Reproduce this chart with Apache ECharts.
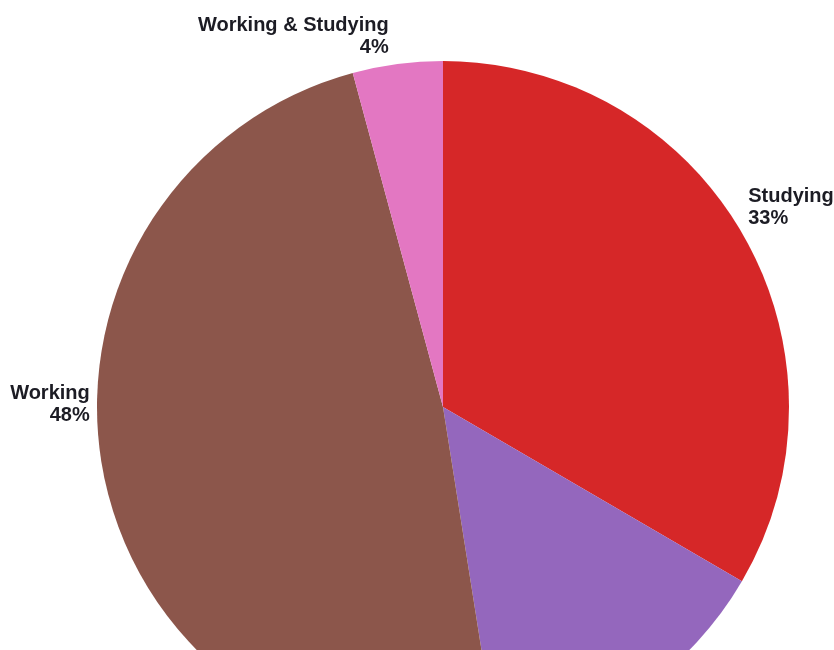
<!DOCTYPE html>
<html>
<head>
<meta charset="utf-8">
<script src="https://cdn.jsdelivr.net/npm/echarts@6/dist/echarts.min.js"></script>
<style>
  html, body { margin: 0; padding: 0; background: #fff; }
  #chart { width: 834px; height: 650px; }
</style>
</head>
<body>
<div id="chart"></div>
<script>
// slice data, clockwise from 12 o'clock
const categories = ['Studying', 'Neither', 'Working', 'Working & Studying']
const shares = [33.4, 14.1, 48.3, 4.2]
const colors = ['#d62728', '#9467bd', '#8c564b', '#e377c2']
// the "Neither" label falls below the visible area in the original
const hiddenLabels = ['Neither']

// small nudges of the outside labels from where echarts puts them
const labelNudge = {
  'Studying': [0, -24],
  'Working': [-9, -76],
  'Working & Studying': [-8, -22]
}

const chart = echarts.init(document.getElementById('chart'))

const pieData = categories.map((name, i) => ({
  name: name,
  value: shares[i],
  itemStyle: { color: colors[i] },
  label: { show: hiddenLabels.indexOf(name) < 0 }
}))

chart.setOption({
  animation: false,
  backgroundColor: '#ffffff',
  series: [
    {
      type: 'pie',
      center: [443, 407],
      radius: 346,
      startAngle: 90,
      clockwise: true,
      avoidLabelOverlap: false,
      itemStyle: { borderWidth: 0 },
      label: {
        position: 'outside',
        distanceToLabelLine: 0,
        fontFamily: '"Liberation Sans", Arial, sans-serif',
        fontWeight: 'bold',
        fontSize: 20,
        lineHeight: 22,
        color: '#1c1c24',
        formatter: (p) => p.name + '\n' + Math.round(p.percent) + '%'
      },
      labelLine: { show: false, length: 6, length2: 0 },
      labelLayout: (params) => {
        const name = categories[params.dataIndex]
        const n = labelNudge[name] || [0, 0]
        return { dx: n[0], dy: n[1] }
      },
      data: pieData
    }
  ]
})
</script>
</body>
</html>
